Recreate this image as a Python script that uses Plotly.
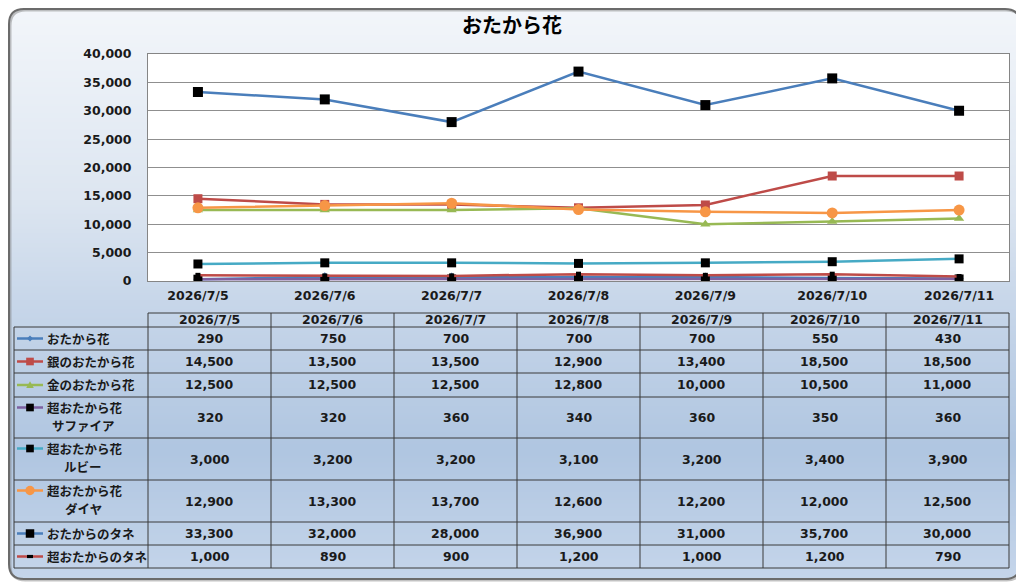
import numpy as np, zlib, struct, base64
import plotly.graph_objects as go

# ---------------- data ----------------
dates = ["2026/7/5", "2026/7/6", "2026/7/7", "2026/7/8", "2026/7/9", "2026/7/10", "2026/7/11"]
names = ["おたから花", "銀のおたから花", "金のおたから花", "超おたから花\nサファイア",
         "超おたから花\nルビー", "超おたから花\nダイヤ", "おたからのタネ", "超おたからのタネ"]
otakara = [290, 750, 700, 700, 700, 550, 430]
gin = [14500, 13500, 13500, 12900, 13400, 18500, 18500]
kin = [12500, 12500, 12500, 12800, 10000, 10500, 11000]
sapphire = [320, 320, 360, 340, 360, 350, 360]
ruby = [3000, 3200, 3200, 3100, 3200, 3400, 3900]
diamond = [12900, 13300, 13700, 12600, 12200, 12000, 12500]
tane = [33300, 32000, 28000, 36900, 31000, 35700, 30000]
chotane = [1000, 890, 900, 1200, 1000, 1200, 790]
series = [otakara, gin, kin, sapphire, ruby, diamond, tane, chotane]
y_ticks = [0, 5000, 10000, 15000, 20000, 25000, 30000, 35000, 40000]

# ---------------- styles ----------------
# the page places the figure 8px from the window's top-left corner
OFF = 8
W, H = 1024 - OFF, 583 - OFF
line_colors = ["#4A7EBB", "#BE4B48", "#98B954", "#7D60A0", "#46AAC5", "#F79646", "#4A7EBB", "#BE4B48"]
mk_symbols = ["diamond", "square", "triangle-up", "square", "square", "circle", "square", "square"]
mk_colors = ["#4A7EBB", "#BE4B48", "#98B954", "#000000", "#000000", "#F79646", "#000000", "#000000"]
mk_sizes = [7, 9, 9, 9, 9, 11, 10, 5]
FONT = "DejaVu Sans, Noto Sans CJK JP"
JFONT = "Noto Sans CJK JP"
TXT = "#1A1A1A"
NUMF = dict(family=FONT, size=12.5, color=TXT, weight="bold")


def X(x):
    return (x - OFF) / W


def Y(y):
    return 1 - (y - OFF) / H


# ---------------- background gradient image ----------------
stops_y = [0, 200, 300, 450, 583]
stops_c = np.array([[244, 247, 251], [221, 230, 241], [200, 215, 234], [176, 198, 225], [198, 214, 235]], float)
ys = np.arange(H) + 0.5 + OFF
col = np.stack([np.interp(ys, stops_y, stops_c[:, i]) for i in range(3)], axis=1)
img = np.zeros((H, W, 4), np.uint8)
img[:, :, :3] = col[:, None, :].astype(np.uint8)
bx0, by0, bx1, by1, br = 9, 9, 1020, 579, 15
xx, yy = np.meshgrid(np.arange(W) + 0.5 + OFF, np.arange(H) + 0.5 + OFF)
cx = np.clip(xx, bx0 + br, bx1 - br)
cy = np.clip(yy, by0 + br, by1 - br)
inside = ((xx - cx) ** 2 + (yy - cy) ** 2 <= br * br) & (xx >= bx0) & (xx <= bx1) & (yy >= by0) & (yy <= by1)
img[:, :, 3] = np.where(inside, 255, 0).astype(np.uint8)
raw = b"".join(b"\x00" + img[r].tobytes() for r in range(H))


def chunk(t, d):
    return struct.pack(">I", len(d)) + t + d + struct.pack(">I", zlib.crc32(t + d) & 0xFFFFFFFF)


png = (b"\x89PNG\r\n\x1a\n" + chunk(b"IHDR", struct.pack(">IIBBBBB", W, H, 8, 6, 0, 0, 0))
       + chunk(b"IDAT", zlib.compress(raw, 9)) + chunk(b"IEND", b""))
bg_uri = "data:image/png;base64," + base64.b64encode(png).decode()


def rrect_path(x0, y0, x1, y1, r):
    pts = [
        f"M{X(x0 + r)},{Y(y0)}", f"L{X(x1 - r)},{Y(y0)}", f"Q{X(x1)},{Y(y0)} {X(x1)},{Y(y0 + r)}",
        f"L{X(x1)},{Y(y1 - r)}", f"Q{X(x1)},{Y(y1)} {X(x1 - r)},{Y(y1)}",
        f"L{X(x0 + r)},{Y(y1)}", f"Q{X(x0)},{Y(y1)} {X(x0)},{Y(y1 - r)}",
        f"L{X(x0)},{Y(y0 + r)}", f"Q{X(x0)},{Y(y0)} {X(x0 + r)},{Y(y0)}", "Z"]
    return " ".join(pts)


# ---------------- figure ----------------
fig = go.Figure()
for i, (nm, vals) in enumerate(zip(names, series)):
    fig.add_trace(go.Scatter(
        x=dates, y=vals, mode="lines+markers", name=nm.replace("\n", ""),
        line=dict(color=line_colors[i], width=2.5),
        marker=dict(symbol=mk_symbols[i], size=mk_sizes[i], color=mk_colors[i]),
        showlegend=False))

# plot area geometry (window pixels)
PL, PR, PT, PB = 148, 1009, 54, 281
shapes = []
annotations = []

# shadow + outer rounded border
shapes.append(dict(type="path", xref="paper", yref="paper", path=rrect_path(bx0 + 1.5, by0 + 1.5, bx1 + 1.5, by1 + 1.5, br),
                   line=dict(color="rgba(120,120,120,0.45)", width=2), layer="below"))
shapes.append(dict(type="path", xref="paper", yref="paper", path=rrect_path(bx0, by0, bx1, by1, br),
                   line=dict(color="#6B6B6B", width=2), layer="below"))
# white plot area
shapes.append(dict(type="rect", xref="paper", yref="paper", x0=X(PL), x1=X(PR), y0=Y(PB), y1=Y(PT),
                   fillcolor="white", line=dict(width=0), layer="below"))

# ---------------- data table ----------------
col_x = [PL + (PR - PL) * k / len(dates) for k in range(len(dates) + 1)]
LX0 = 14
HEAD_T, HEAD_B = 313, 327
row_y = [327, 350, 373, 397, 438, 480, 522, 545, 568]
GRID = "#3A3A3A"


def hline(x0, x1, y):
    shapes.append(dict(type="line", xref="paper", yref="paper", x0=X(x0), x1=X(x1), y0=Y(y), y1=Y(y),
                       line=dict(color=GRID, width=1)))


def vline(x, y0, y1):
    shapes.append(dict(type="line", xref="paper", yref="paper", x0=X(x), x1=X(x), y0=Y(y0), y1=Y(y1),
                       line=dict(color=GRID, width=1)))


hline(PL, PR, HEAD_T)
for yv in row_y:
    hline(LX0, PR, yv)
vline(LX0, row_y[0], row_y[-1])
for xv in col_x:
    vline(xv, HEAD_T, row_y[-1])

# header
for k, d in enumerate(dates):
    annotations.append(dict(x=X((col_x[k] + col_x[k + 1]) / 2), y=Y(319), xref="paper", yref="paper",
                            text=d, showarrow=False, xanchor="center", yanchor="middle", font=NUMF))

# rows
for i, (nm, vals) in enumerate(zip(names, series)):
    rt, rb = row_y[i], row_y[i + 1]
    rc = (rt + rb) / 2
    parts = nm.split("\n")
    ky = rt + 10.5 if len(parts) > 1 else rc
    # legend key line
    shapes.append(dict(type="line", xref="paper", yref="paper", x0=X(17), x1=X(43), y0=Y(ky), y1=Y(ky),
                       line=dict(color=line_colors[i], width=2.5)))
    mx = 30
    s = mk_sizes[i] * 0.85 / 2
    sym = mk_symbols[i]
    if sym == "square":
        if i == 7:
            shapes.append(dict(type="rect", xref="paper", yref="paper", x0=X(mx - 3), x1=X(mx + 3), y0=Y(ky + 1.6),
                               y1=Y(ky - 1.6), fillcolor=mk_colors[i], line=dict(width=0)))
        else:
            shapes.append(dict(type="rect", xref="paper", yref="paper", x0=X(mx - s), x1=X(mx + s), y0=Y(ky + s),
                               y1=Y(ky - s), fillcolor=mk_colors[i], line=dict(width=0)))
    elif sym == "circle":
        shapes.append(dict(type="circle", xref="paper", yref="paper", x0=X(mx - s), x1=X(mx + s), y0=Y(ky + s),
                           y1=Y(ky - s), fillcolor=mk_colors[i], line=dict(width=0)))
    elif sym == "diamond":
        p = f"M{X(mx)},{Y(ky - s)} L{X(mx + s)},{Y(ky)} L{X(mx)},{Y(ky + s)} L{X(mx - s)},{Y(ky)} Z"
        shapes.append(dict(type="path", xref="paper", yref="paper", path=p, fillcolor=mk_colors[i], line=dict(width=0)))
    elif sym == "triangle-up":
        p = f"M{X(mx)},{Y(ky - s)} L{X(mx + s)},{Y(ky + s * 0.8)} L{X(mx - s)},{Y(ky + s * 0.8)} Z"
        shapes.append(dict(type="path", xref="paper", yref="paper", path=p, fillcolor=mk_colors[i], line=dict(width=0)))
    # label
    lf = dict(family=JFONT, size=12.5, color=TXT, weight=600)
    if len(parts) == 1:
        annotations.append(dict(x=X(45), y=Y(rc), xref="paper", yref="paper", text=parts[0], showarrow=False,
                                xanchor="left", yanchor="middle", font=lf))
    else:
        annotations.append(dict(x=X(45), y=Y(rt + 10.5), xref="paper", yref="paper", text=parts[0], showarrow=False,
                                xanchor="left", yanchor="middle", font=lf))
        annotations.append(dict(x=X(83), y=Y(rt + 28), xref="paper", yref="paper", text=parts[1], showarrow=False,
                                xanchor="center", yanchor="middle", font=lf))
    # values
    for k, v in enumerate(vals):
        annotations.append(dict(x=X((col_x[k] + col_x[k + 1]) / 2), y=Y(rc), xref="paper", yref="paper",
                                text=f"{v:,}", showarrow=False, xanchor="center", yanchor="middle", font=NUMF))

# title
annotations.append(dict(x=X(512), y=Y(24), xref="paper", yref="paper", text="<b>おたから花</b>", showarrow=False,
                        xanchor="center", yanchor="middle", font=dict(family=JFONT, size=20, color="#000000")))

fig.update_layout(
    width=W, height=H, autosize=False, margin=dict(l=0, r=0, t=0, b=0, pad=0, autoexpand=False),
    paper_bgcolor="white", plot_bgcolor="white",
    images=[dict(source=bg_uri, xref="paper", yref="paper", x=0, y=1, sizex=1, sizey=1,
                 sizing="stretch", xanchor="left", yanchor="top", layer="below")],
    shapes=shapes, annotations=annotations,
    xaxis=dict(domain=[X(PL), X(PR)], type="category", showgrid=False, showline=True, mirror=True,
               linecolor="#858585", linewidth=1, ticks="", ticklabelstandoff=3, automargin=False,
               tickfont=NUMF, fixedrange=True),
    yaxis=dict(domain=[Y(PB), Y(PT)], range=[0, 40000], tickvals=y_ticks, tickformat=",",
               showgrid=True, gridcolor="#8F8F8F", gridwidth=1, zeroline=False, automargin=False,
               showline=True, mirror=True, linecolor="#858585", linewidth=1, ticks="",
               ticklabelstandoff=13, tickfont=NUMF, fixedrange=True),
    showlegend=False,
)

fig.write_html("out.html")
